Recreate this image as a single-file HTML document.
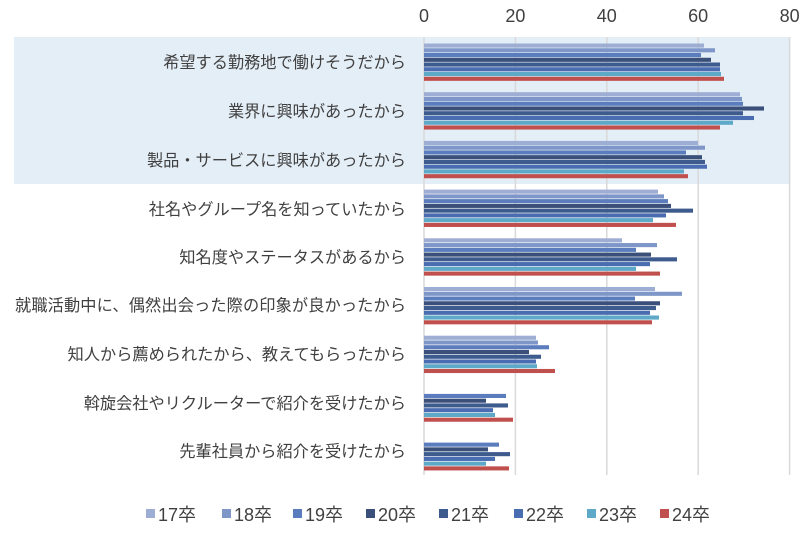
<!DOCTYPE html>
<html><head><meta charset="utf-8"><style>
html,body{margin:0;padding:0;background:#fff;}
svg text{font-family:"Liberation Sans","Noto Sans CJK JP",sans-serif;fill:#404040;}
.a{fill:#9dadd4}.b{fill:#7e96c8}.c{fill:#5b7dbd}.d{fill:#3a4f7a}.e{fill:#3e5b8e}.f{fill:#4a6cb0}.g{fill:#5ea8c8}.h{fill:#c0504d}
</style></head><body>
<svg width="800" height="533" xmlns="http://www.w3.org/2000/svg">
<rect x="14" y="37" width="776" height="147" fill="#e4eef7"/>
<g stroke="#d9d9d9" stroke-width="1.5">
<line x1="515.4" y1="37" x2="515.4" y2="475"/>
<line x1="606.8" y1="37" x2="606.8" y2="475"/>
<line x1="698.2" y1="37" x2="698.2" y2="475"/>
<line x1="789.6" y1="37" x2="789.6" y2="475"/>
<line x1="424" y1="37" x2="424" y2="475"/>
</g>
<g font-size="18" text-anchor="middle">
<text x="424" y="22">0</text><text x="515.4" y="22">20</text><text x="606.8" y="22">40</text><text x="698.2" y="22">60</text><text x="789.6" y="22">80</text>
</g>
<g font-size="16.2" text-anchor="end">
<text x="406" y="68">希望する勤務地で働けそうだから</text>
<text x="406" y="117">業界に興味があったから</text>
<text x="406" y="166">製品・サービスに興味があったから</text>
<text x="406" y="215">社名やグループ名を知っていたから</text>
<text x="406" y="263">知名度やステータスがあるから</text>
<text x="406" y="311" textLength="391">就職活動中に、偶然出会った際の印象が良かったから</text>
<text x="406" y="360">知人から薦められたから、教えてもらったから</text>
<text x="406" y="409">斡旋会社やリクルーターで紹介を受けたから</text>
<text x="406" y="457">先輩社員から紹介を受けたから</text>
</g>
<g>
<rect class="a" x="424" y="43.5" width="280" height="4.1"/>
<rect class="b" x="424" y="48.25" width="291" height="4.1"/>
<rect class="c" x="424" y="53" width="277" height="4.1"/>
<rect class="d" x="424" y="57.75" width="287" height="4.1"/>
<rect class="e" x="424" y="62.5" width="296" height="4.1"/>
<rect class="f" x="424" y="67.25" width="296" height="4.1"/>
<rect class="g" x="424" y="72" width="297" height="4.1"/>
<rect class="h" x="424" y="76.75" width="300" height="4.1"/>

<rect class="a" x="424" y="92.2" width="316" height="4.1"/>
<rect class="b" x="424" y="96.95" width="318" height="4.1"/>
<rect class="c" x="424" y="101.7" width="319" height="4.1"/>
<rect class="d" x="424" y="106.45" width="340" height="4.1"/>
<rect class="e" x="424" y="111.2" width="319" height="4.1"/>
<rect class="f" x="424" y="115.95" width="330" height="4.1"/>
<rect class="g" x="424" y="120.7" width="309" height="4.1"/>
<rect class="h" x="424" y="125.45" width="296" height="4.1"/>

<rect class="a" x="424" y="140.9" width="274" height="4.1"/>
<rect class="b" x="424" y="145.65" width="281" height="4.1"/>
<rect class="c" x="424" y="150.4" width="262" height="4.1"/>
<rect class="d" x="424" y="155.15" width="278" height="4.1"/>
<rect class="e" x="424" y="159.9" width="281" height="4.1"/>
<rect class="f" x="424" y="164.65" width="283" height="4.1"/>
<rect class="g" x="424" y="169.4" width="260" height="4.1"/>
<rect class="h" x="424" y="174.15" width="264" height="4.1"/>

<rect class="a" x="424" y="189.6" width="234" height="4.1"/>
<rect class="b" x="424" y="194.35" width="240" height="4.1"/>
<rect class="c" x="424" y="199.1" width="244" height="4.1"/>
<rect class="d" x="424" y="203.85" width="247" height="4.1"/>
<rect class="e" x="424" y="208.6" width="269" height="4.1"/>
<rect class="f" x="424" y="213.35" width="242" height="4.1"/>
<rect class="g" x="424" y="218.1" width="229" height="4.1"/>
<rect class="h" x="424" y="222.85" width="252" height="4.1"/>

<rect class="a" x="424" y="238.3" width="198" height="4.1"/>
<rect class="b" x="424" y="243.05" width="233" height="4.1"/>
<rect class="c" x="424" y="247.8" width="212" height="4.1"/>
<rect class="d" x="424" y="252.55" width="227" height="4.1"/>
<rect class="e" x="424" y="257.3" width="253" height="4.1"/>
<rect class="f" x="424" y="262.05" width="226" height="4.1"/>
<rect class="g" x="424" y="266.8" width="212" height="4.1"/>
<rect class="h" x="424" y="271.55" width="236" height="4.1"/>

<rect class="a" x="424" y="287" width="231" height="4.1"/>
<rect class="b" x="424" y="291.75" width="258" height="4.1"/>
<rect class="c" x="424" y="296.5" width="211" height="4.1"/>
<rect class="d" x="424" y="301.25" width="236" height="4.1"/>
<rect class="e" x="424" y="306" width="232" height="4.1"/>
<rect class="f" x="424" y="310.75" width="226" height="4.1"/>
<rect class="g" x="424" y="315.5" width="235" height="4.1"/>
<rect class="h" x="424" y="320.25" width="228" height="4.1"/>

<rect class="a" x="424" y="335.7" width="112" height="4.1"/>
<rect class="b" x="424" y="340.45" width="114" height="4.1"/>
<rect class="c" x="424" y="345.2" width="125" height="4.1"/>
<rect class="d" x="424" y="349.95" width="105" height="4.1"/>
<rect class="e" x="424" y="354.7" width="117" height="4.1"/>
<rect class="f" x="424" y="359.45" width="112" height="4.1"/>
<rect class="g" x="424" y="364.2" width="113" height="4.1"/>
<rect class="h" x="424" y="368.95" width="131" height="4.1"/>

<rect class="c" x="424" y="393.9" width="82" height="4.1"/>
<rect class="d" x="424" y="398.65" width="62" height="4.1"/>
<rect class="e" x="424" y="403.4" width="84" height="4.1"/>
<rect class="f" x="424" y="408.15" width="69" height="4.1"/>
<rect class="g" x="424" y="412.9" width="71" height="4.1"/>
<rect class="h" x="424" y="417.65" width="89" height="4.1"/>

<rect class="c" x="424" y="442.6" width="75" height="4.1"/>
<rect class="d" x="424" y="447.35" width="64" height="4.1"/>
<rect class="e" x="424" y="452.1" width="86" height="4.1"/>
<rect class="f" x="424" y="456.85" width="71" height="4.1"/>
<rect class="g" x="424" y="461.6" width="62" height="4.1"/>
<rect class="h" x="424" y="466.35" width="85" height="4.1"/>
</g>
<g font-size="18">
<rect x="146" y="509" width="9" height="9" class="a"/><text x="158" y="521">17卒</text>
<rect x="222" y="509" width="9" height="9" class="b"/><text x="234" y="521">18卒</text>
<rect x="293" y="509" width="9" height="9" class="c"/><text x="305" y="521">19卒</text>
<rect x="366" y="509" width="9" height="9" class="d"/><text x="378" y="521">20卒</text>
<rect x="439" y="509" width="9" height="9" class="e"/><text x="451" y="521">21卒</text>
<rect x="514" y="509" width="9" height="9" class="f"/><text x="526" y="521">22卒</text>
<rect x="587" y="509" width="9" height="9" class="g"/><text x="599" y="521">23卒</text>
<rect x="660" y="509" width="9" height="9" class="h"/><text x="672" y="521">24卒</text>
</g>
</svg>
</body></html>
